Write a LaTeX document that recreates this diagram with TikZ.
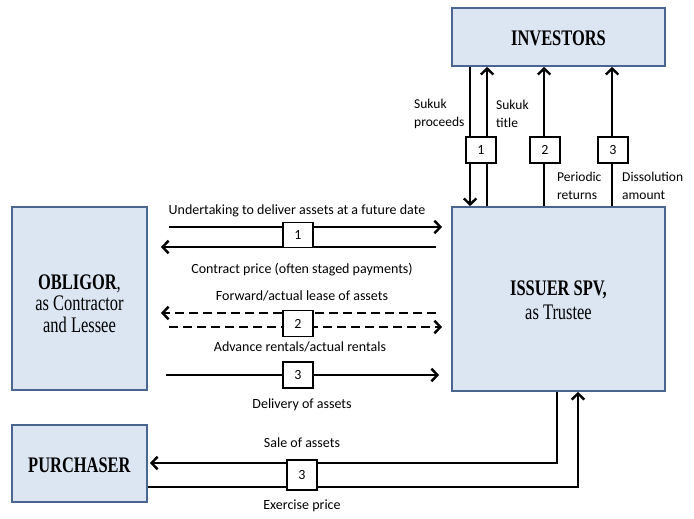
\documentclass[tikz,border=0pt]{standalone}
\usepackage{fontspec}
\usepackage{graphicx}
\setmainfont{Carlito}
\newfontfamily\boxfont{Liberation Serif}
\usetikzlibrary{arrows.meta}
\definecolor{boxfill}{HTML}{DCE6F2}
\definecolor{boxline}{HTML}{4A6590}
\newcommand{\boxtxt}[2][4.5pt]{\raisebox{\dimexpr-5.6pt-#1\relax}[0pt][0pt]{\scalebox{0.94}[1.27]{\begin{tabular}{@{}c@{}}#2\end{tabular}}}}
\tikzset{
  x=1pt,y=-1pt,
  party/.style={draw=boxline,line width=1.8pt,fill=boxfill,inner sep=0pt,align=center,font=\boxfont\fontsize{17.5}{16.5}\selectfont},
  numbox/.style={draw=black,line width=1.3pt,fill=white,minimum width=30pt,minimum height=26pt,inner sep=0pt,font=\fontsize{14}{16}\selectfont},
  arr/.style={line width=2.4pt,-{Straight Barb[length=6pt,width=12.5pt]}},
  lbl/.style={font=\fontsize{14}{16}\selectfont,inner sep=0pt},
  lbll/.style={font=\fontsize{13.5}{18}\selectfont,inner sep=0pt,align=left,anchor=west},
  dsh/.style={dash pattern=on 9pt off 5pt}
}
\begin{document}
\begin{tikzpicture}
\useasboundingbox (0,0) rectangle (694,519);
% parties
\node[party,minimum width=213pt,minimum height=58pt] (inv) at (558.5,37) {\boxtxt{\textbf{INVESTORS}}};
\node[party,minimum width=213pt,minimum height=184pt] (iss) at (558.5,299) {\boxtxt{\textbf{ISSUER SPV,}\\[2.5pt]as Trustee}};
\node[party,minimum width=135pt,minimum height=183pt] (obl) at (79.5,298.5) {\boxtxt[8.5pt]{\textbf{OBLIGOR},\\as Contractor\\and Lessee}};
\node[party,minimum width=135pt,minimum height=77pt] (pur) at (79.5,463.5) {\boxtxt[5pt]{\textbf{PURCHASER}}};
% investor flows
\draw[arr] ([xshift=19pt]inv.south west) -- ([xshift=19pt]iss.north west);
\draw[arr] ([xshift=36pt]iss.north west) -- ([xshift=36pt]inv.south west);
\draw[arr] ([xshift=93pt]iss.north west) -- ([xshift=93pt]inv.south west);
\draw[arr] ([xshift=161pt]iss.north west) -- ([xshift=161pt]inv.south west);
\node[numbox] (n1) at (481,150) {1};
\node[numbox] (n2) at (545,150) {2};
\node[numbox] (n3) at (613,150) {3};
\node[lbll] (l1) at (414,114) {Sukuk\\proceeds};
\node[lbll] (l2) at (496,114) {Sukuk\\title};
\node[lbll] (l3) at (557,186) {Periodic\\returns};
\node[lbll] (l4) at (622,186) {Dissolution\\amount};
% obligor flows
\coordinate (ya) at (0,227);
\coordinate (yb) at (0,247);
\coordinate (yc) at (0,313);
\coordinate (yd) at (0,327);
\coordinate (ye) at (0,375);
\draw[arr,shorten <=21pt,shorten >=9pt] (obl.east |- ya) -- (iss.west |- ya);
\draw[arr,shorten <=15pt,shorten >=13pt] (iss.west |- yb) -- (obl.east |- yb);
\draw[arr,dsh,shorten <=15pt,shorten >=13pt] (iss.west |- yc) -- (obl.east |- yc);
\draw[arr,dsh,shorten <=21pt,shorten >=9pt] (obl.east |- yd) -- (iss.west |- yd);
\draw[arr,shorten <=18pt,shorten >=12pt] (obl.east |- ye) -- (iss.west |- ye);
\node[numbox,minimum height=25pt] (m1) at (298,235) {1};
\node[numbox] (m2) at (298,323.5) {2};
\node[numbox] (m3) at (298,375) {3};
\node[lbl] (t1) at (297,211) {Undertaking to deliver assets at a future date};
\node[lbl] (t2) at (302,270) {Contract price (often staged payments)};
\node[lbl] (t3) at (302,296) {Forward/actual lease of assets};
\node[lbl] (t4) at (300,347) {Advance rentals/actual rentals};
\node[lbl] (t5) at (302,405) {Delivery of assets};
% purchaser flows
\coordinate (ys) at (0,463);
\coordinate (yx) at (0,487);
\draw[arr,shorten >=2pt] ([xshift=-1.5pt]iss.south) |- (pur.east |- ys);
\draw[arr] (pur.east |- yx) -| ([xshift=19.5pt]iss.south);
\node[numbox,minimum height=30pt] (p3) at (302,475) {3};
\node[lbl] (t6) at (302,443) {Sale of assets};
\node[lbl] (t7) at (302,506) {Exercise price};
\end{tikzpicture}
\end{document}
